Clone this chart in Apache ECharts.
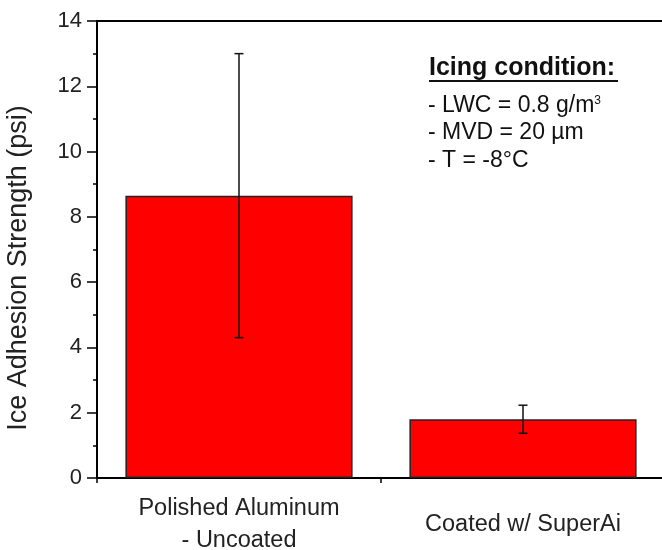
<!DOCTYPE html>
<html>
<head>
<meta charset="utf-8">
<script src="https://cdn.jsdelivr.net/npm/echarts@6/dist/echarts.min.js"></script>
<style>html,body{margin:0;padding:0;background:#fff}#c{width:662px;height:550px}</style>
</head>
<body>
<div id="c"></div>
<script>
var categories = ['Polished Aluminum\n- Uncoated', 'Coated w/ SuperAi'];
var means = [8.65, 1.80];
var errors = [4.35, 0.43];
var yTicks = [0, 2, 4, 6, 8, 10, 12, 14];
var yTitle = 'Ice Adhesion Strength (psi)';
var noteTitle = 'Icing condition:';
var noteLines = ['- LWC = 0.8 g/m{sup|3}', '- MVD = 20 \u00B5m', '- T = -8\u00B0C'];

var FONT = '"Liberation Sans", Arial, sans-serif';
var chart = echarts.init(document.getElementById('c'));

var errData = means.map(function (m, i) { return [i, m - errors[i], m + errors[i]]; });

var option = {
  backgroundColor: '#fff',
  animation: false,
  grid: { left: 97, top: 21, width: 568, height: 457, containLabel: false, outerBoundsMode: 'none' },
  xAxis: [{
    type: 'category',
    data: categories,
    position: 'bottom',
    axisLine: { show: true, lineStyle: { color: '#000', width: 2 } },
    axisTick: { show: true, length: 5, lineStyle: { color: '#000', width: 1.5 } },
    axisLabel: { color: '#222', fontFamily: FONT, fontSize: 23.5, lineHeight: 32, verticalAlign: 'middle', margin: 47, interval: 0 }
  }, {
    type: 'category',
    data: categories,
    position: 'top',
    axisLine: { show: true, lineStyle: { color: '#000', width: 2 } },
    axisTick: { show: false },
    axisLabel: { show: false }
  }],
  yAxis: {
    type: 'value',
    min: yTicks[0],
    max: yTicks[yTicks.length - 1],
    interval: 2,
    axisLine: { show: true, lineStyle: { color: '#000', width: 2 } },
    axisTick: { show: true, length: 10, lineStyle: { color: '#000', width: 1.5 } },
    minorTick: { show: true, splitNumber: 2, length: 4, lineStyle: { color: '#000', width: 1.5 } },
    splitLine: { show: false },
    axisLabel: { color: '#222', fontFamily: FONT, fontSize: 22, margin: 15 }
  },
  series: [{
    type: 'bar',
    data: means,
    barWidth: '80%',
    itemStyle: { color: '#ff0000', borderColor: '#222', borderWidth: 1.5 }
  }, {
    type: 'custom',
    data: errData,
    z: 10,
    renderItem: function (params, api) {
      var x = api.value(0);
      var lo = api.coord([x, api.value(1)]);
      var hi = api.coord([x, api.value(2)]);
      var cw = 4.5;
      var st = { stroke: '#111', lineWidth: 1.5 };
      return {
        type: 'group',
        children: [
          { type: 'line', shape: { x1: hi[0], y1: hi[1], x2: lo[0], y2: lo[1] }, style: st },
          { type: 'line', shape: { x1: hi[0] - cw, y1: hi[1], x2: hi[0] + cw, y2: hi[1] }, style: st },
          { type: 'line', shape: { x1: lo[0] - cw, y1: lo[1], x2: lo[0] + cw, y2: lo[1] }, style: st }
        ]
      };
    }
  }],
  graphic: [
    { type: 'text', x: 19, y: 268, rotation: Math.PI / 2, style: { text: yTitle, fontFamily: FONT, fontSize: 27, fill: '#222', align: 'center', verticalAlign: 'middle' } },
    { type: 'text', x: 429, y: 68, style: { text: noteTitle, fontFamily: FONT, fontSize: 25, fontWeight: 'bold', fill: '#111', verticalAlign: 'middle' } },
    { type: 'line', shape: { x1: 429, y1: 81, x2: 618, y2: 81 }, style: { stroke: '#111', lineWidth: 2 } },
    { type: 'text', x: 428, y: 106, style: { text: noteLines[0], rich: { sup: { fontFamily: FONT, fontSize: 12, fill: '#111', verticalAlign: 'top' } }, fontFamily: FONT, fontSize: 23, fill: '#111', verticalAlign: 'middle' } },
    { type: 'text', x: 428, y: 133, style: { text: noteLines[1], fontFamily: FONT, fontSize: 23, fill: '#111', verticalAlign: 'middle' } },
    { type: 'text', x: 428, y: 161, style: { text: noteLines[2], fontFamily: FONT, fontSize: 23, fill: '#111', verticalAlign: 'middle' } }
  ]
};
chart.setOption(option);
</script>
</body>
</html>
